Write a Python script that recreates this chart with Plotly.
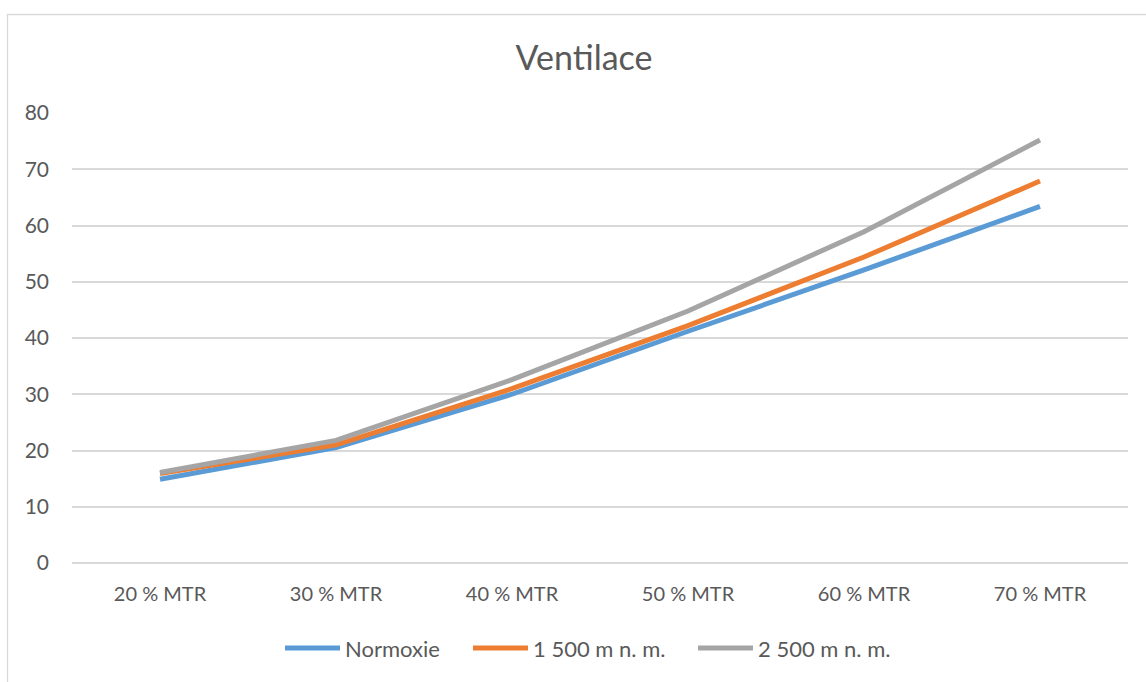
import plotly.graph_objects as go

categories = ["20 % MTR", "30 % MTR", "40 % MTR", "50 % MTR", "60 % MTR", "70 % MTR"]
normoxie = [14.9, 20.5, 30.0, 41.2, 52.1, 63.4]
m1500 = [15.9, 21.0, 31.0, 42.2, 54.4, 67.9]
m2500 = [16.1, 21.8, 32.6, 44.8, 58.9, 75.2]
y_ticks = [0, 10, 20, 30, 40, 50, 60, 70, 80]

series = [
    ("Normoxie", normoxie, "#5B9BD5"),
    ("1 500 m n. m.", m1500, "#ED7D31"),
    ("2 500 m n. m.", m2500, "#A5A5A5"),
]

W, H = 1146, 682
L, R, T, B = 72, 18, 113, 119
pw, ph = W - L - R, H - T - B


def px_x(px):
    return (px - L) / pw


def px_y(py):
    return (T + ph - py) / ph


fig = go.Figure()
for name, vals, color in series:
    fig.add_trace(go.Scatter(
        x=categories, y=vals, name=name, mode="lines",
        line=dict(color=color, width=5), showlegend=False,
    ))

font_family = "Lato, 'Open Sans', sans-serif"
grey = "#595959"
fig.update_layout(
    width=W, height=H,
    margin=dict(l=L, r=R, t=T, b=B),
    paper_bgcolor="white", plot_bgcolor="white",
    font=dict(family=font_family, color=grey, size=18),
    title=dict(text="Ventilace", x=584 / W, xanchor="center", y=1 - 58 / H, yanchor="middle",
               yref="container", font=dict(size=34, color=grey, family=font_family)),
    xaxis=dict(type="category", range=[-0.5, 5.5], showgrid=False, zeroline=False,
               showline=False, ticks="", ticklabelstandoff=17,
               tickfont=dict(size=20, color=grey)),
    yaxis=dict(range=[0, 80], tickvals=y_ticks, showgrid=True, gridcolor="#D9D9D9",
               gridwidth=1.5, zeroline=True, zerolinecolor="#D9D9D9", zerolinewidth=1.5,
               showline=False, ticks="", ticklabelstandoff=22,
               tickfont=dict(size=21, color=grey)),
    showlegend=False,
)

# legend below the plot: line sample + label per series
legend_y = 648
entry_starts = [285, 473, 698]
sample_len = 55
for (name, _, color), x0 in zip(series, entry_starts):
    fig.add_shape(type="line", xref="paper", yref="paper",
                  x0=px_x(x0), x1=px_x(x0 + sample_len), y0=px_y(legend_y), y1=px_y(legend_y),
                  line=dict(color=color, width=5))
    fig.add_annotation(xref="paper", yref="paper", x=px_x(x0 + sample_len + 3), y=px_y(legend_y),
                       xanchor="left", yanchor="middle", showarrow=False, text=name,
                       font=dict(size=22, color=grey, family=font_family))

# chart-area border
fig.add_shape(type="rect", xref="paper", yref="paper",
              x0=px_x(7.5), x1=px_x(W + 10), y0=px_y(H + 10), y1=px_y(14.5),
              line=dict(color="#D9D9D9", width=1.3), fillcolor="rgba(0,0,0,0)", layer="below")

fig.write_html("out.html")
